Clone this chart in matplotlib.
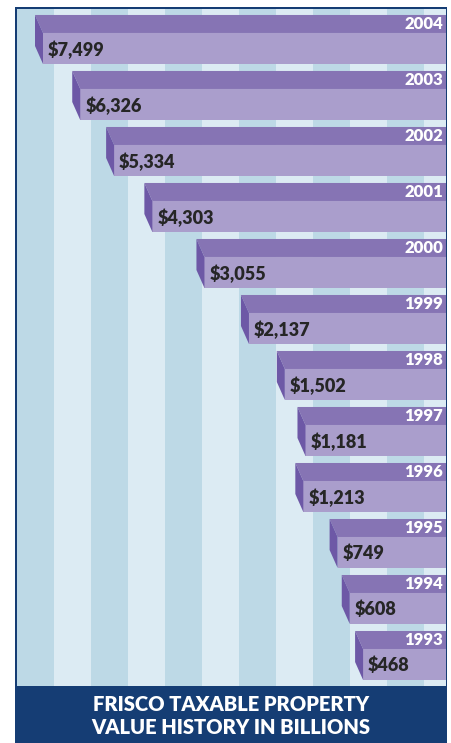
import numpy as np
import matplotlib.pyplot as plt
from matplotlib.patches import Polygon, Rectangle
from matplotlib.transforms import IdentityTransform

# data (billions), top bar first
years = ['2004', '2003', '2002', '2001', '2000', '1999',
         '1998', '1997', '1996', '1995', '1994', '1993']
values = [7499, 6326, 5334, 4303, 3055, 2137, 1502, 1181, 1213, 749, 608, 468]
title = 'FRISCO TAXABLE PROPERTY\nVALUE HISTORY IN BILLIONS'

navy = '#153d74'
top_c = '#8674b4'
front_c = '#aa9ecc'
side_c = '#6d58a6'
stripe_dark = '#bdd9e6'
stripe_light = '#dcebf3'

W, H = 452, 743
fig = plt.figure(figsize=(W / 100, H / 100), dpi=100)
fig.patch.set_facecolor('white')

# navy frame + title box
fig.patches.append(Rectangle((15 / W, 0), 432 / W, 1 - 7 / H, transform=fig.transFigure,
                             facecolor=navy, edgecolor='none', zorder=-1))
fig.text(231 / W, 1 - 716 / H, title, ha='center', va='center', color='white',
         fontsize=14.5, fontweight='heavy', family='Lato', linespacing=1.25)

ax = fig.add_axes([17 / W, 1 - 686 / H, 429 / W, 677 / H])
ax.set_facecolor(stripe_light)

# vertical background stripes
sw = 37 / 429
for k in range(0, 12, 2):
    ax.add_patch(Rectangle((k * sw, 0), sw, 1, transform=ax.transAxes,
                           facecolor=stripe_dark, edgecolor='none', zorder=0))

# power scale, bars grow leftwards from the right edge
p = 0.57
ax.set_xscale('function', functions=(lambda x: np.abs(x) ** p,
                                     lambda x: np.abs(x) ** (1 / p)))
xmax = values[0] * (429 / 403) ** (1 / p)
ax.set_xlim(xmax, 0)
ax.set_ylim(11.384, -0.705)
ax.xaxis.set_visible(False)
ax.yaxis.set_visible(False)
for s in ax.spines.values():
    s.set_visible(False)

y = np.arange(len(values))
bh = 0.554
ax.barh(y, values, height=bh, left=0, color=front_c, edgecolor='none', zorder=3)

# top and side faces of the 3D bars (oblique depth offset in pixels)
dx, dy = -8, 18
for yi, v in zip(y, values):
    (xl, yt), (xr, yb) = ax.transData.transform([(v, yi - bh / 2), (0, yi + bh / 2)])
    top = Polygon([(xl, yt), (xl + dx, yt + dy), (xr + 20, yt + dy), (xr + 20, yt)],
                  closed=True, transform=IdentityTransform(), facecolor=top_c,
                  edgecolor='none', zorder=3)
    side = Polygon([(xl, yt), (xl + dx, yt + dy), (xl + dx, yb + dy), (xl, yb)],
                   closed=True, transform=IdentityTransform(), facecolor=side_c,
                   edgecolor='none', zorder=3)
    ax.add_patch(top)
    ax.add_patch(side)

for yi, v, yr in zip(y, values, years):
    ax.annotate(f'\\${v:,}', (v, yi), xytext=(5, -1), textcoords='offset pixels',
                ha='left', va='center', fontsize=13, fontweight='heavy',
                family='Lato', color='#262626', zorder=5)
    ax.annotate(yr, (0, yi), xytext=(-3, 24), textcoords='offset pixels',
                ha='right', va='center', fontsize=12, fontweight='heavy',
                family='Lato', color='white', zorder=5)

fig.savefig('out.png', dpi=100)
